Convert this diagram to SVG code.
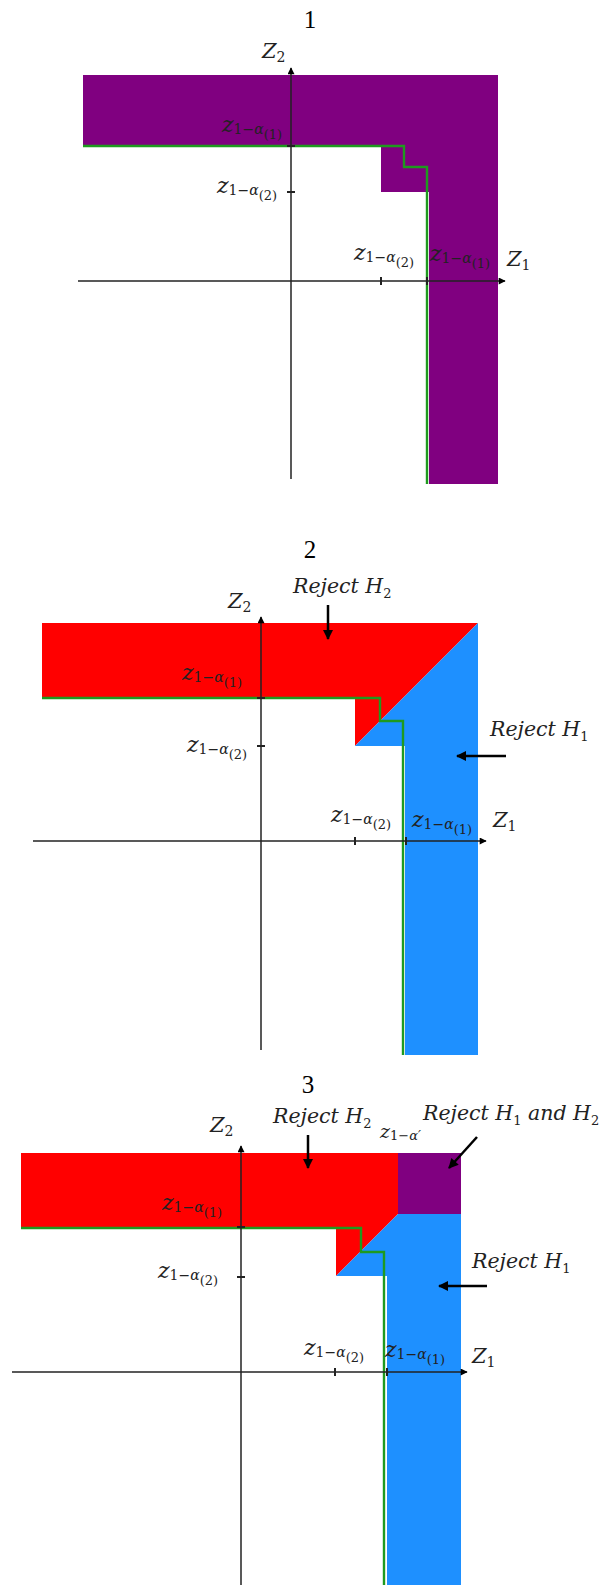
<svg xmlns="http://www.w3.org/2000/svg" width="606" height="1585" viewBox="0 0 606 1585">
<style>
.title{font-family:"Liberation Serif",serif;font-size:25px;fill:#000;text-anchor:middle}
.ax{stroke:#222;stroke-width:1.5;fill:none}
.tk{stroke:#222;stroke-width:2;fill:none}
.gr{stroke:#1f9a1f;stroke-width:2.4;fill:none}
.pu{fill:#800080}
.rd{fill:#ff0000}
.bl{fill:#1e90ff}
.m{font-family:"DejaVu Serif",serif;fill:#222}
.zi{font-style:italic;font-size:22px}
.s1{font-size:14px}
.s2{font-size:13px}
.it{font-style:italic}
.Z{font-family:"DejaVu Serif",serif;font-style:italic;font-size:21px;fill:#222}
.Zs{font-style:normal;font-size:14px}
.r{font-family:"DejaVu Serif",serif;font-style:italic;font-size:20.5px;fill:#222}
.rs{font-style:normal;font-size:13px}
.ar{stroke:#000;stroke-width:2.5;fill:none}
</style>
<defs>
<marker id="ah" viewBox="0 0 10 10" refX="9" refY="5" markerWidth="9" markerHeight="7" markerUnits="userSpaceOnUse" orient="auto">
<path d="M0,0 L10,5 L0,10 z" fill="#000"/>
</marker>
<marker id="ah2" viewBox="0 0 10 10" refX="9" refY="5" markerWidth="11" markerHeight="10" markerUnits="userSpaceOnUse" orient="auto">
<path d="M0,0 L10,5 L0,10 z" fill="#000"/>
</marker>
</defs>

<!-- Panel 1 -->
<g id="panel1">
<text class="title" x="310" y="28">1</text>
<polygon class="pu" points="83,75 498,75 498,484 429,484 429,192 381,192 381,146 83,146"/>
<path class="gr" d="M83,146 H404 V167 H427 V484"/>
<line class="ax" x1="291" y1="479" x2="291" y2="68" marker-end="url(#ah)"/>
<line class="ax" x1="78" y1="281" x2="505" y2="281" marker-end="url(#ah)"/>
<path class="tk" d="M287,146 H295 M287,192 H295 M381,277 V285 M427,277 V285"/>
<text class="Z" x="262" y="58">Z<tspan class="Zs" dy="4">2</tspan></text>
<text class="Z" x="507" y="266">Z<tspan class="Zs" dy="4">1</tspan></text>
<text class="m" x="222" y="132"><tspan class="zi">z</tspan><tspan class="s1" dy="2">1−</tspan><tspan class="s1 it">α</tspan><tspan class="s2" dy="5">(1)</tspan></text>
<text class="m" x="217" y="193"><tspan class="zi">z</tspan><tspan class="s1" dy="2">1−</tspan><tspan class="s1 it">α</tspan><tspan class="s2" dy="5">(2)</tspan></text>
<text class="m" x="354" y="260"><tspan class="zi">z</tspan><tspan class="s1" dy="2">1−</tspan><tspan class="s1 it">α</tspan><tspan class="s2" dy="5">(2)</tspan></text>
<text class="m" x="430" y="261"><tspan class="zi">z</tspan><tspan class="s1" dy="2">1−</tspan><tspan class="s1 it">α</tspan><tspan class="s2" dy="5">(1)</tspan></text>
</g>

<!-- Panel 2 -->
<g id="panel2">
<text class="title" x="310" y="558">2</text>
<polygon class="rd" points="42,623 478,623 355,746 355,698 42,698"/>
<polygon class="bl" points="478,623 478,1055 405,1055 405,746 355,746"/>
<path class="gr" d="M42,698 H380 V721 H403 V1055"/>
<line class="ax" x1="261" y1="1050" x2="261" y2="617" marker-end="url(#ah)"/>
<line class="ax" x1="33" y1="841" x2="486" y2="841" marker-end="url(#ah)"/>
<path class="tk" d="M257,698 H265 M257,746 H265 M355,837 V845 M406,837 V845"/>
<text class="Z" x="228" y="608">Z<tspan class="Zs" dy="4">2</tspan></text>
<text class="Z" x="493" y="827">Z<tspan class="Zs" dy="4">1</tspan></text>
<text class="m" x="182" y="680"><tspan class="zi">z</tspan><tspan class="s1" dy="2">1−</tspan><tspan class="s1 it">α</tspan><tspan class="s2" dy="5">(1)</tspan></text>
<text class="m" x="187" y="752"><tspan class="zi">z</tspan><tspan class="s1" dy="2">1−</tspan><tspan class="s1 it">α</tspan><tspan class="s2" dy="5">(2)</tspan></text>
<text class="m" x="331" y="822"><tspan class="zi">z</tspan><tspan class="s1" dy="2">1−</tspan><tspan class="s1 it">α</tspan><tspan class="s2" dy="5">(2)</tspan></text>
<text class="m" x="412" y="827"><tspan class="zi">z</tspan><tspan class="s1" dy="2">1−</tspan><tspan class="s1 it">α</tspan><tspan class="s2" dy="5">(1)</tspan></text>
<text class="r" x="293" y="593">Reject H<tspan class="rs" dy="5">2</tspan></text>
<text class="r" x="490" y="736">Reject H<tspan class="rs" dy="5">1</tspan></text>
</g>

<!-- Panel 3 -->
<g id="panel3">
<text class="title" x="308" y="1093">3</text>
<polygon class="rd" points="21,1153 398,1153 398,1214 336,1276 336,1228 21,1228"/>
<rect class="pu" x="398" y="1153" width="63" height="61"/>
<polygon class="bl" points="398,1214 461,1214 461,1585 387,1585 387,1276 336,1276"/>
<path class="gr" d="M21,1228 H361 V1252 H384 V1585"/>
<line class="ax" x1="241" y1="1585" x2="241" y2="1146" marker-end="url(#ah)"/>
<line class="ax" x1="12" y1="1372" x2="467" y2="1372" marker-end="url(#ah)"/>
<path class="tk" d="M237,1227 H245 M237,1277 H245 M335,1368 V1376 M387,1368 V1376"/>
<text class="Z" x="210" y="1132">Z<tspan class="Zs" dy="4">2</tspan></text>
<text class="Z" x="472" y="1363">Z<tspan class="Zs" dy="4">1</tspan></text>
<text class="m" x="162" y="1210"><tspan class="zi">z</tspan><tspan class="s1" dy="2">1−</tspan><tspan class="s1 it">α</tspan><tspan class="s2" dy="5">(1)</tspan></text>
<text class="m" x="158" y="1278"><tspan class="zi">z</tspan><tspan class="s1" dy="2">1−</tspan><tspan class="s1 it">α</tspan><tspan class="s2" dy="5">(2)</tspan></text>
<text class="m" x="304" y="1355"><tspan class="zi">z</tspan><tspan class="s1" dy="2">1−</tspan><tspan class="s1 it">α</tspan><tspan class="s2" dy="5">(2)</tspan></text>
<text class="m" x="385" y="1357"><tspan class="zi">z</tspan><tspan class="s1" dy="2">1−</tspan><tspan class="s1 it">α</tspan><tspan class="s2" dy="5">(1)</tspan></text>
<text class="m" x="380" y="1138"><tspan class="it" font-size="19">z</tspan><tspan font-size="13" dy="2">1−</tspan><tspan font-size="13" class="it">α′</tspan></text>
<text class="r" x="273" y="1123">Reject H<tspan class="rs" dy="5">2</tspan></text>
<text class="r" x="423" y="1120">Reject H<tspan class="rs" dy="5">1</tspan><tspan dy="-5"> and H</tspan><tspan class="rs" dy="5">2</tspan></text>
<text class="r" x="472" y="1268">Reject H<tspan class="rs" dy="5">1</tspan></text>
</g>

<!-- Annotation arrows -->
<g id="connectors">
<line class="ar" x1="328" y1="605" x2="328" y2="639" marker-end="url(#ah2)"/>
<line class="ar" x1="506" y1="756" x2="457" y2="756" marker-end="url(#ah2)"/>
<line class="ar" x1="308" y1="1135" x2="308" y2="1168" marker-end="url(#ah2)"/>
<line class="ar" x1="477" y1="1137" x2="449" y2="1168" marker-end="url(#ah2)"/>
<line class="ar" x1="487" y1="1286" x2="439" y2="1286" marker-end="url(#ah2)"/>
</g>
</svg>
